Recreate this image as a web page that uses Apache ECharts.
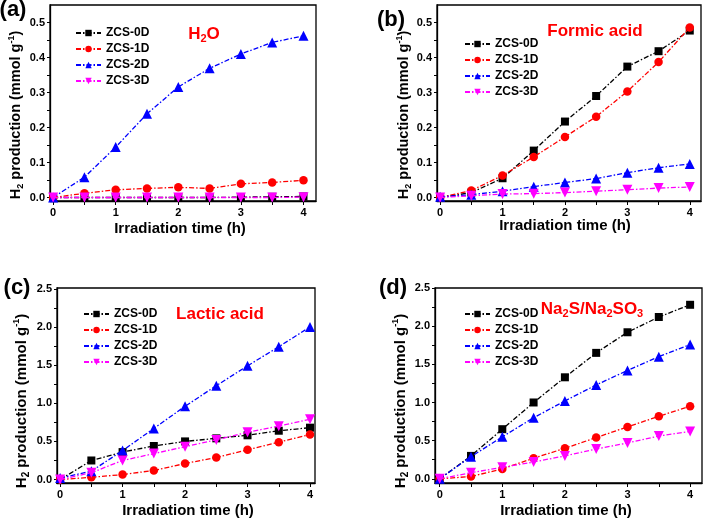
<!DOCTYPE html>
<html>
<head>
<meta charset="utf-8">
<script src="https://cdn.jsdelivr.net/npm/echarts@6/dist/echarts.min.js"></script>
<style>html,body{margin:0;padding:0;background:#fff;}#c{width:704px;height:522px;}</style>
</head>
<body>
<div id="c"></div>
<script>
// ---- data ----
const times = [0, 0.5, 1, 1.5, 2, 2.5, 3, 3.5, 4];
const seriesNames = ['ZCS-0D', 'ZCS-1D', 'ZCS-2D', 'ZCS-3D'];
const xTickLabels = [0, 1, 2, 3, 4];

// (a) H2O
const h2o_0D = [0, 0, 0, 0, 0, 0, 0.001, 0.002, 0.003];
const h2o_1D = [0, 0.012, 0.022, 0.026, 0.029, 0.026, 0.039, 0.043, 0.049];
const h2o_2D = [0, 0.058, 0.144, 0.239, 0.316, 0.369, 0.41, 0.443, 0.462];
const h2o_3D = [0, 0, 0, 0, 0, 0, 0, 0, 0.001];
const yLabelsA = [0, 0.1, 0.2, 0.3, 0.4, 0.5];

// (b) Formic acid
const formic_0D = [0, 0.014, 0.055, 0.134, 0.217, 0.29, 0.374, 0.418, 0.477];
const formic_1D = [0, 0.02, 0.063, 0.116, 0.173, 0.231, 0.303, 0.387, 0.486];
const formic_2D = [0.002, 0.008, 0.018, 0.031, 0.043, 0.054, 0.071, 0.085, 0.096];
const formic_3D = [0, 0.005, 0.01, 0.011, 0.014, 0.018, 0.022, 0.027, 0.03];
const yLabelsB = [0, 0.1, 0.2, 0.3, 0.4, 0.5];

// (c) Lactic acid
const lactic_0D = [0, 0.25, 0.36, 0.44, 0.5, 0.54, 0.58, 0.64, 0.68];
const lactic_1D = [0, 0.03, 0.065, 0.12, 0.21, 0.29, 0.39, 0.49, 0.59];
const lactic_2D = [0.02, 0.11, 0.38, 0.67, 0.96, 1.23, 1.49, 1.74, 2.0];
const lactic_3D = [0, 0.09, 0.25, 0.34, 0.43, 0.52, 0.62, 0.7, 0.79];
const yLabelsC = [0, 0.5, 1.0, 1.5, 2.0, 2.5];

// (d) Na2S/Na2SO3
const sulf_0D = [0, 0.3, 0.65, 1.0, 1.33, 1.65, 1.92, 2.12, 2.28];
const sulf_1D = [0, 0.03, 0.13, 0.27, 0.4, 0.54, 0.68, 0.82, 0.95];
const sulf_2D = [0, 0.29, 0.55, 0.8, 1.02, 1.23, 1.42, 1.6, 1.76];
const sulf_3D = [0, 0.08, 0.15, 0.22, 0.3, 0.39, 0.47, 0.56, 0.62];
const yLabelsD = [0, 0.5, 1.0, 1.5, 2.0, 2.5];

// ---- chart ----
const FONT = '"Liberation Sans", Arial, sans-serif';
const colors = ['#000000', '#ff0000', '#0000ff', '#ff00ff'];
const symbols = ['rect', 'circle', 'triangle', 'triangle'];
const symbolSizes = [8, 8.5, 10, 10];
const symbolRotates = [0, 0, 0, 180];
const dash = [5, 2, 1.5, 2];

const panels = [
  { data: [h2o_0D, h2o_1D, h2o_2D, h2o_3D], yLabels: yLabelsA, yStep: 0.05,
    grid: { left: 50, top: 5, width: 266, height: 196 }, xMin: -0.05, xMax: 4.2, yMin: -0.01, yMax: 0.55,
    legend: { left: 75, top: 27 } },
  { data: [formic_0D, formic_1D, formic_2D, formic_3D], yLabels: yLabelsB, yStep: 0.05,
    grid: { left: 437, top: 5, width: 264, height: 196 }, xMin: -0.05, xMax: 4.18, yMin: -0.01, yMax: 0.55,
    legend: { left: 464, top: 38 } },
  { data: [lactic_0D, lactic_1D, lactic_2D, lactic_3D], yLabels: yLabelsC, yStep: 0.25,
    grid: { left: 57, top: 288, width: 258, height: 195 }, xMin: -0.05, xMax: 4.08, yMin: -0.045, yMax: 2.51,
    legend: { left: 83, top: 308 } },
  { data: [sulf_0D, sulf_1D, sulf_2D, sulf_3D], yLabels: yLabelsD, yStep: 0.25,
    grid: { left: 435, top: 288, width: 267, height: 195 }, xMin: -0.075, xMax: 4.19, yMin: -0.055, yMax: 2.5,
    legend: { left: 464, top: 308 } }
];

function halfSteps(max, step) {
  const out = [];
  for (let i = 0; i * step <= max + 1e-9; i++) out.push(+(i * step).toFixed(3));
  return out;
}

const option = {
  animation: false,
  backgroundColor: '#fff',
  grid: [], xAxis: [], yAxis: [], series: [], legend: [], graphic: []
};

panels.forEach((p, gi) => {
  option.grid.push(Object.assign({ show: true, borderColor: '#000', borderWidth: 1.3, backgroundColor: 'transparent' }, p.grid));
  option.xAxis.push({
    type: 'value', gridIndex: gi, min: p.xMin, max: p.xMax,
    axisLine: { show: true, onZero: false, lineStyle: { color: '#000', width: 1.3 } },
    axisTick: { show: true, inside: false, length: 4, customValues: halfSteps(4, 0.5), lineStyle: { color: '#000', width: 1 } },
    axisLabel: { customValues: xTickLabels, margin: 6, color: '#000', fontSize: 11, fontWeight: 'bold', fontFamily: FONT },
    splitLine: { show: false }
  });
  option.yAxis.push({
    type: 'value', gridIndex: gi, min: p.yMin, max: p.yMax,
    axisLine: { show: true, onZero: false, lineStyle: { color: '#000', width: 1.3 } },
    axisTick: { show: true, inside: false, length: 3, customValues: halfSteps(p.yLabels[p.yLabels.length - 1], p.yStep), lineStyle: { color: '#000', width: 1 } },
    axisLabel: { customValues: p.yLabels, margin: 5, color: '#000', fontSize: 11, fontWeight: 'bold', fontFamily: FONT,
      formatter: v => Number(v).toFixed(1) },
    splitLine: { show: false }
  });
  p.data.forEach((vals, si) => {
    option.series.push({
      type: 'line', name: seriesNames[si], xAxisIndex: gi, yAxisIndex: gi,
      data: times.map((t, k) => [t, vals[k]]),
      symbol: symbols[si], symbolSize: symbolSizes[si], symbolRotate: symbolRotates[si],
      itemStyle: { color: colors[si] },
      lineStyle: { color: colors[si], width: 1.3, type: dash },
      z: 2 + si
    });
  });
  option.legend.push({
    orient: 'vertical', left: p.legend.left, top: p.legend.top, padding: 0,
    itemWidth: 25, itemHeight: 8, itemGap: 4,
    textStyle: { fontSize: 12, fontWeight: 'bold', fontFamily: FONT, color: '#000' },
    data: seriesNames.slice()
  });
});

function txt(x, y, text, size, color, rich, rot) {
  return {
    type: 'text', x: x, y: y, rotation: rot || 0, z: 100,
    style: { text: text, fill: color, font: 'bold ' + size + 'px ' + FONT, fontSize: size, fontWeight: 'bold', fontFamily: FONT,
      align: 'center', verticalAlign: 'middle', rich: rich || {} }
  };
}
function richSet(size, color) {
  return {
    m: { fontSize: size, fontWeight: 'bold', fontFamily: FONT, fill: color, lineHeight: size + 4, verticalAlign: 'middle' },
    sub: { fontSize: Math.round(size * 0.65), fontWeight: 'bold', fontFamily: FONT, fill: color, verticalAlign: 'bottom' },
    sup: { fontSize: Math.round(size * 0.6), fontWeight: 'bold', fontFamily: FONT, fill: color, verticalAlign: 'top' }
  };
}
const ytitle = '{m|H}{sub|2}{m| production (mmol g}{sup|-1}{m|)}';
const xtitle = 'Irradiation time (h)';

option.graphic = [
  txt(13, 10, '(a)', 22, '#000'),
  txt(391, 20, '(b)', 22, '#000'),
  txt(17, 288, '(c)', 22, '#000'),
  txt(393, 288, '(d)', 22, '#000'),
  txt(180, 229, xtitle, 15, '#000'),
  txt(565, 226, xtitle, 15, '#000'),
  txt(188, 511, xtitle, 15, '#000'),
  txt(566, 511, xtitle, 15, '#000'),
  txt(16, 115, ytitle, 14.5, '#000', richSet(14.5, '#000'), Math.PI / 2),
  txt(404, 115, ytitle, 14.5, '#000', richSet(14.5, '#000'), Math.PI / 2),
  txt(22, 401, ytitle, 15, '#000', richSet(15, '#000'), Math.PI / 2),
  txt(401, 401, ytitle, 15, '#000', richSet(15, '#000'), Math.PI / 2),
  txt(204, 34, '{m|H}{sub|2}{m|O}', 17, '#ff0000', richSet(17, '#ff0000')),
  txt(595, 31, 'Formic acid', 17, '#ff0000'),
  txt(220, 314, 'Lactic acid', 17, '#ff0000'),
  txt(592, 309, '{m|Na}{sub|2}{m|S/Na}{sub|2}{m|SO}{sub|3}', 17, '#ff0000', richSet(17, '#ff0000'))
];

const chart = echarts.init(document.getElementById('c'), null, { renderer: 'canvas' });
chart.setOption(option);
</script>
</body>
</html>
